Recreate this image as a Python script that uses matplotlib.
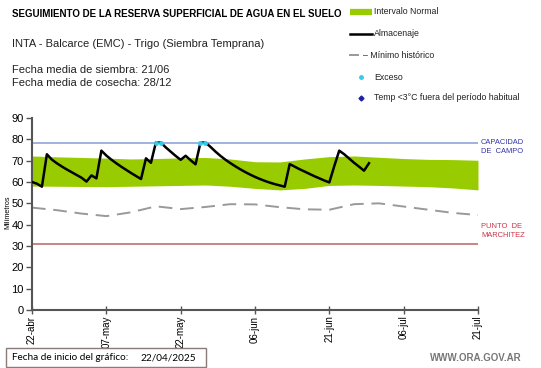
import matplotlib
matplotlib.use("Agg")
import matplotlib.pyplot as plt
from matplotlib.patches import Rectangle
from matplotlib.lines import Line2D

plt.rcParams['font.family'] = ['Liberation Sans', 'DejaVu Sans']

# ---- data (dias desde el 22/04) ----
tick_days = [0, 15, 30, 45, 60, 75, 90]
tick_labels = ["22-abr", "07-may", "22-may", "06-jun", "21-jun", "06-jul", "21-jul"]

band_days = [0, 5, 10, 15, 20, 25, 30, 35, 40, 45, 50, 55, 60, 65, 70, 75, 80, 85, 90]
band_top = [72.2, 71.8, 71.5, 71.2, 70.8, 71.0, 71.3, 71.5, 70.8, 69.5, 69.4,
            70.8, 71.9, 72.2, 71.6, 71.0, 70.6, 70.5, 70.2]
band_bottom = [58.1, 58.0, 57.9, 57.8, 58.0, 58.2, 58.4, 58.6, 58.0, 57.0, 56.3,
               57.0, 58.4, 58.6, 58.4, 58.1, 57.8, 57.2, 56.3]

min_hist = [48.0, 46.8, 45.2, 44.0, 45.8, 48.6, 47.3, 48.3, 49.6, 49.5, 48.2,
            47.2, 47.0, 49.6, 50.0, 48.5, 47.0, 45.5, 44.5]

almacenaje = [60.0, 59.2, 57.8, 73.0, 70.5, 68.8, 67.3, 65.9, 64.6, 63.3,
              62.0, 60.2, 63.1, 61.7, 74.7, 72.4, 70.5, 68.8, 67.2, 65.7,
              64.2, 62.8, 61.4, 71.1, 69.0, 78.5, 78.5, 76.2, 74.2, 72.2,
              70.4, 72.3, 70.2, 68.3, 78.5, 78.5, 76.5, 74.3, 72.3, 70.5,
              68.9, 67.4, 66.0, 64.7, 63.5, 62.4, 61.4, 60.5, 59.7, 59.0,
              58.4, 57.8, 68.4, 67.2, 66.0, 64.9, 63.8, 62.7, 61.7, 60.7,
              59.8, 67.5, 74.7, 73.0, 71.0, 69.0, 67.2, 65.3, 68.8]
alm_days = list(range(len(almacenaje)))

capacidad = 78.5
marchitez = 31.0

W, H = 541, 368
fig = plt.figure(figsize=(W / 100, H / 100), dpi=100)
ax = fig.add_axes([32 / W, 1 - 310 / H, 446 / W, 192 / H])

ax.fill_between(band_days, band_bottom, band_top, color='#99cc00', lw=0, zorder=1)
ax.plot(band_days, min_hist, color='#999999', lw=1.4, dashes=(7, 4), zorder=2)
ax.axhline(capacidad, color='#8ea6d8', lw=1.2, zorder=2)
ax.axhline(marchitez, color='#c07070', lw=1.2, zorder=2)
ax.plot(alm_days, almacenaje, color='black', lw=1.8, zorder=3)
exc_d = [d for d, v in zip(alm_days, almacenaje) if v >= capacidad]
exc_v = [v for v in almacenaje if v >= capacidad]
ax.plot(exc_d, exc_v, 'o', color='#33ccee', ms=2.5, zorder=4)

ax.set_xlim(0, 90)
ax.set_ylim(0, 90)
ax.set_xticks(tick_days)
ax.set_xticklabels(tick_labels, rotation=90, fontsize=7)
ax.set_yticks(range(0, 91, 10))
ax.tick_params(axis='y', labelsize=8, length=4, width=1, color='#555555', pad=2)
ax.tick_params(axis='x', direction='inout', length=6, width=1, color='#555555', pad=1)
for s in ['top', 'right']:
    ax.spines[s].set_visible(False)
for s in ['left', 'bottom']:
    ax.spines[s].set_color('#555555')
    ax.spines[s].set_linewidth(1.5)
ax.set_facecolor('none')

# ---- overlay in pixel coordinates for texts and legend ----
ov = fig.add_axes([0, 0, 1, 1], zorder=5)
ov.set_xlim(0, W)
ov.set_ylim(H, 0)
ov.axis('off')

ov.text(12, 14, "SEGUIMIENTO DE LA RESERVA SUPERFICIAL DE AGUA EN EL SUELO",
        fontsize=7.0, fontweight='bold', va='center')
ov.text(12, 44, "INTA - Balcarce (EMC) - Trigo (Siembra Temprana)", fontsize=8, va='center', color='#222222')
ov.text(12, 70, "Fecha media de siembra: 21/06", fontsize=8, va='center', color='#222222')
ov.text(12, 83, "Fecha media de cosecha: 28/12", fontsize=8, va='center', color='#222222')

# legend
leg_y = [12, 34, 55, 77, 98]
ov.add_line(Line2D([350, 372], [leg_y[0], leg_y[0]], color='#99cc00', lw=4.5, solid_capstyle='butt'))
ov.add_line(Line2D([350, 372], [leg_y[1], leg_y[1]], color='black', lw=1.8))
ov.add_line(Line2D([350, 358], [leg_y[2], leg_y[2]], color='#999999', lw=1.4))
ov.plot([361], [leg_y[3]], 'o', color='#33ccee', ms=2.5)
ov.plot([361], [leg_y[4]], 'D', color='#1f1f9f', ms=2.5)
leg_txt = ["Intervalo Normal", "Almacenaje", "– Mínimo histórico", "Exceso",
           "Temp <3°C fuera del período habitual"]
leg_x = [374, 374, 363, 374, 374]
for x, y, t in zip(leg_x, leg_y, leg_txt):
    ov.text(x, y, t, fontsize=6.3, va='center', color='#222222')

ov.text(481, 147, "CAPACIDAD\nDE  CAMPO", fontsize=5.4, color='#3333aa', va='center', linespacing=1.3)
ov.text(481, 231, "PUNTO  DE\nMARCHITEZ", fontsize=5.4, color='#cc3344', va='center', linespacing=1.3)
ov.text(8, 212, "Milímetros", fontsize=5.2, rotation=90, ha='center', va='center')

ov.add_patch(Rectangle((6, 348), 200, 19, fill=False, edgecolor='#8a7a7a', lw=1))
ov.text(12, 358, "Fecha de inicio del gráfico:", fontsize=7.2, family='Lato', va='center')
ov.text(140, 358, "22/04/2025", fontsize=7.2, family='Lato', va='center')
ov.text(522, 358, "WWW.ORA.GOV.AR", fontsize=7, fontweight='bold', color='#777777',
        ha='right', va='center')

fig.savefig("out.png", dpi=100)
